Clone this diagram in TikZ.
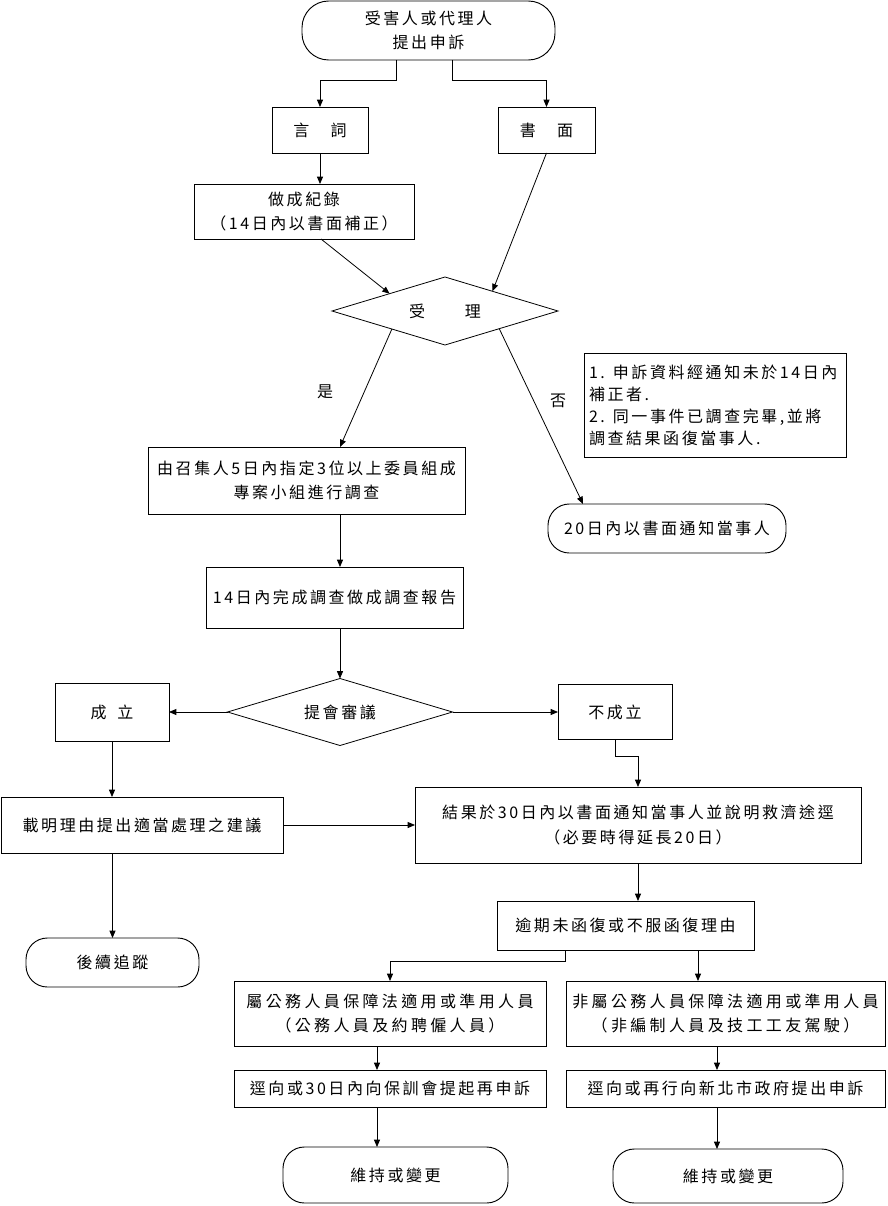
\documentclass[tikz,border=0pt]{standalone}
\usepackage{fontspec}
\setmainfont{Noto Sans CJK TC}[LetterSpace=16]
\newfontfamily\cjkw{Noto Sans CJK TC}[LetterSpace=21]
\usetikzlibrary{shapes.geometric,arrows.meta,calc}
\newdimen\PX \PX=0.75pt
\newcommand\fs{\fontsize{12pt}{18.5pt}\selectfont}
\tikzset{
  box/.style={draw, line width=0.7pt, inner sep=0pt, outer sep=0pt, align=center, font=\fs},
  term/.style={box, rounded corners=16pt},
  dec/.style={draw, line width=0.6pt, diamond, aspect=3.3, inner sep=0pt, outer sep=0pt, font=\fs},
  arr/.style={-{Triangle[length=5.5pt,width=4.5pt]}, line width=0.6pt},
  lab/.style={font=\fs, inner sep=0pt},
}
\begin{document}
\begin{tikzpicture}[x=0.75pt,y=-0.75pt]
\useasboundingbox (0,0) rectangle (888,1206);

\node[term, rounded corners=20pt, minimum width=253\PX, minimum height=59\PX] (top) at (428.5,30.5) {受害人或代理人\\提出申訴};
\node[box, minimum width=96\PX, minimum height=46\PX] (yan) at (320,130) {言　詞};
\node[box, minimum width=97\PX, minimum height=46\PX] (shu) at (546.5,130) {書　面};
\node[box, minimum width=220\PX, minimum height=55\PX] (rec) at (304,211.5) {做成紀錄\\（14日內以書面補正）};
\node[dec, minimum width=226\PX, minimum height=68\PX] (acc) at (445,311) {受　　理};
\node[box, minimum width=262\PX, minimum height=104\PX, align=left, text width=252\PX, inner xsep=4\PX, font=\fontsize{12pt}{16.5pt}\selectfont] (note) at (715,405)
  {1. 申訴資料經通知未於14日內\\補正者.\\2. 同一事件已調查完畢,並將\\調查結果函復當事人.};
\node[box, minimum width=317\PX, minimum height=67\PX] (inv) at (306.5,480.5) {由召集人5日內指定3位以上委員組成\\專案小組進行調查};
\node[term, minimum width=238\PX, minimum height=49\PX] (notify) at (667,528.5) {20日內以書面通知當事人};
\node[box, minimum width=257\PX, minimum height=61\PX] (rep) at (334.5,597.5) {14日內完成調查做成調查報告};
\node[dec, minimum width=225\PX, minimum height=67\PX] (meet) at (340,712) {提會審議};
\node[box, minimum width=114\PX, minimum height=58\PX] (ok) at (112,712) {成\hspace{8pt}立};
\node[box, minimum width=114\PX, minimum height=55\PX] (nok) at (615,712) {不成立};
\node[box, minimum width=282\PX, minimum height=56\PX] (sug) at (142,825) {載明理由提出適當處理之建議};
\node[box, minimum width=446\PX, minimum height=76\PX] (res) at (638,825) {結果於30日內以書面通知當事人並說明救濟途逕\\（必要時得延長20日）};
\node[term, minimum width=173\PX, minimum height=49\PX] (follow) at (112.5,962.5) {後續追蹤};
\node[box, minimum width=257\PX, minimum height=49\PX] (over) at (625.5,925.5) {逾期未函復或不服函復理由};
\node[box, minimum width=312\PX, minimum height=65\PX, font=\cjkw\fs] (civ) at (390,1013.5) {屬公務人員保障法適用或準用人員\\（公務人員及約聘僱人員）};
\node[box, minimum width=319\PX, minimum height=65\PX, font=\cjkw\fs] (non) at (725.5,1013.5) {非屬公務人員保障法適用或準用人員\\（非編制人員及技工工友駕駛）};
\node[box, minimum width=312\PX, minimum height=37\PX] (civtwo) at (390,1088.5) {逕向或30日內向保訓會提起再申訴};
\node[box, minimum width=319\PX, minimum height=37\PX] (nontwo) at (725.5,1088.5) {逕向或再行向新北市政府提出申訴};
\node[term, minimum width=225\PX, minimum height=56\PX] (endone) at (395.5,1175) {維持或變更};
\node[term, minimum width=230\PX, minimum height=54\PX] (endtwo) at (728,1176) {維持或變更};

\node[lab] (yes) at (325,392) {是};
\node[lab] (no) at (558,401) {否};

% connectors
\draw[arr] ($(top.south)+(-32.5,0)$) -- ++(0,20) -| (yan.north);
\draw[arr] ($(top.south)+(23.5,0)$) -- ++(0,20) -| (shu.north);
\draw[arr] (yan.south) -- ($(rec.north)+(16,0)$);
\draw[arr] ($(rec.south)+(17,0)$) -- ($(acc.west)!0.51!(acc.north)$);
\draw[arr] (shu.south) -- ($(acc.north)!0.42!(acc.east)$);
\draw[arr] ($(acc.west)!0.53!(acc.south)$) -- ($(inv.north)+(33.5,0)$);
\draw[arr] ($(acc.south)!0.48!(acc.east)$) -- ($(notify.north)+(-84,0)$);
\draw[arr] ($(inv.south)+(33.5,0)$) -- ($(rep.north)+(5.5,0)$);
\draw[arr] (meet.north |- rep.south) -- (meet.north);
\draw[arr] (meet.west) -- (ok.east);
\draw[arr] (meet.east) -- (nok.west);
\draw[arr] (nok.south) -- ++(0,17) -| (res.north);
\draw[arr] (ok.south) -- (ok.south |- sug.north);
\draw[arr] (sug.east) -- (res.west);
\draw[arr] (follow.north |- sug.south) -- (follow.north);
\draw[arr] (res.south) -- (res.south |- over.north);
\draw[arr] ($(over.south)+(-60.5,0)$) -- ++(0,11) -| (civ.north);
\draw[arr] ($(over.south)+(72.5,0)$) -- ($(non.north)+(-27.5,0)$);
\draw[arr] ($(civ.south)+(-13,0)$) -- ($(civtwo.north)+(-13,0)$);
\draw[arr] ($(civtwo.south)+(-13,0)$) -- ($(endone.north)+(-18.5,0)$);
\draw[arr] ($(non.south)+(-8.5,0)$) -- ($(nontwo.north)+(-8.5,0)$);
\draw[arr] ($(nontwo.south)+(-8.5,0)$) -- ($(endtwo.north)+(-11,0)$);
\end{tikzpicture}
\end{document}
